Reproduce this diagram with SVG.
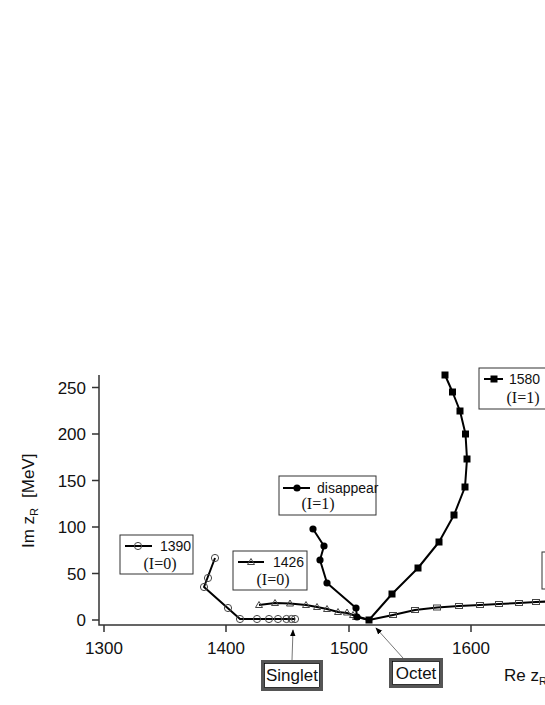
<svg xmlns="http://www.w3.org/2000/svg" width="545" height="705" viewBox="0 0 545 705" xmlns:xlink="http://www.w3.org/1999/xlink">
<style>
.ax{stroke:#333;stroke-width:1.5;fill:none}
.tk{font-family:"Liberation Sans",Arial,sans-serif;font-size:17px;fill:#111}
.cv{stroke:#000;stroke-width:2;fill:none;stroke-linejoin:round}
.lg{fill:#fff;stroke:#333;stroke-width:1}
.ls{font-family:"Liberation Sans",Arial,sans-serif;font-size:14px;fill:#111}
.lr{font-family:"Liberation Serif","Times New Roman",serif;font-size:16px;fill:#111}
.bx{font-family:"Liberation Sans",Arial,sans-serif;font-size:17px;fill:#111}
.ar{stroke:#777;stroke-width:1;fill:none}
.mo{fill:none;stroke:#444;stroke-width:1}
</style>
<defs>
<rect id="sqf" x="-3.5" y="-3.5" width="7" height="7" fill="#000"/>
<rect id="sqo" x="-3.5" y="-2.5" width="7" height="5" class="mo"/>
<circle id="cf" r="3.6" fill="#000"/>
<circle id="co" r="3.6" class="mo"/>
<path id="tri" d="M-3.5,2.5 L3.5,2.5 L0,-3.5Z" class="mo"/>
<marker id="ah" viewBox="0 0 10 10" refX="9" refY="5" markerWidth="7" markerHeight="7" orient="auto" markerUnits="userSpaceOnUse">
<path d="M0,1 L10,5 L0,9Z" fill="#000"/>
</marker>
</defs>
<rect width="545" height="705" fill="#fff"/>
<g id="axes">
<path class="ax" d="M99,375 V625 H545"/>
<path class="ax" d="M92,620 H99 M92,573.5 H99 M92,527 H99 M92,480.5 H99 M92,434 H99 M92,387.5 H99"/>
<path class="ax" d="M104,625 V632 M226,625 V632 M349,625 V632 M471,625 V632"/>
<g class="tk" text-anchor="end">
<text x="86" y="626">0</text>
<text x="86" y="579.5">50</text>
<text x="86" y="533">100</text>
<text x="86" y="486.5">150</text>
<text x="86" y="440">200</text>
<text x="86" y="393.5">250</text>
</g>
<g class="tk" text-anchor="middle">
<text x="104" y="654">1300</text>
<text x="226" y="654">1400</text>
<text x="349" y="654">1500</text>
<text x="471" y="654">1600</text>
</g>
<text class="tk" x="504" y="681">Re z<tspan font-size="11" dy="4">R</tspan></text>
<text class="tk" font-size="16" transform="translate(33.5,548) rotate(-90)">Im z<tspan font-size="11" dy="4">R</tspan><tspan dy="-4" dx="10">[MeV]</tspan></text>
</g>
<g id="s1390">
<polyline class="cv" points="215,558 204,587 240,619 295,619"/>
<use xlink:href="#co" x="215" y="558"/><use xlink:href="#co" x="208" y="578"/><use xlink:href="#co" x="204" y="587"/>
<use xlink:href="#co" x="228" y="608"/><use xlink:href="#co" x="240" y="619"/><use xlink:href="#co" x="257" y="619"/>
<use xlink:href="#co" x="269" y="619"/><use xlink:href="#co" x="278" y="619"/><use xlink:href="#co" x="286.5" y="619"/>
<use xlink:href="#co" x="291.5" y="619"/><use xlink:href="#co" x="295" y="619"/>
</g>
<g id="s1426">
<polyline class="cv" points="259,605 275,603 290,603.5 306,605 317,607 327,609 338,612 347,613 356,616 369,620"/>
<use xlink:href="#tri" x="259" y="605"/><use xlink:href="#tri" x="275" y="603"/><use xlink:href="#tri" x="290" y="603.5"/>
<use xlink:href="#tri" x="306" y="605"/><use xlink:href="#tri" x="317" y="607"/><use xlink:href="#tri" x="327" y="609"/>
<use xlink:href="#tri" x="338" y="612"/><use xlink:href="#tri" x="347" y="612.5"/><use xlink:href="#tri" x="353" y="615"/>
<use xlink:href="#tri" x="356" y="617"/>
</g>
<g id="sdisappear">
<polyline class="cv" points="313,529 324,546 320,560 327,583 356,608 357,617 369,620"/>
<use xlink:href="#cf" x="313" y="529"/><use xlink:href="#cf" x="324" y="546"/><use xlink:href="#cf" x="320" y="560"/>
<use xlink:href="#cf" x="327" y="583"/><use xlink:href="#cf" x="356" y="608"/><use xlink:href="#cf" x="357" y="617"/>
</g>
<g id="s1580">
<polyline class="cv" points="445,375 452.5,392 460,411 465.5,434 467,459 465,487 454,515 439,542 418,568 392,594 369,620"/>
<use xlink:href="#sqf" x="445" y="375"/><use xlink:href="#sqf" x="452.5" y="392"/><use xlink:href="#sqf" x="460" y="411"/>
<use xlink:href="#sqf" x="465.5" y="434"/><use xlink:href="#sqf" x="467" y="459"/><use xlink:href="#sqf" x="465" y="487"/>
<use xlink:href="#sqf" x="454" y="515"/><use xlink:href="#sqf" x="439" y="542"/><use xlink:href="#sqf" x="418" y="568"/>
<use xlink:href="#sqf" x="392" y="594"/><use xlink:href="#sqf" x="369" y="620"/>
</g>
<g id="sright">
<polyline class="cv" points="369,620 393,615 415,610 437,607.5 459,606 480,605 499,604 519,603 536,602 548,601.5"/>
<use xlink:href="#sqo" x="393" y="615"/><use xlink:href="#sqo" x="415" y="610"/><use xlink:href="#sqo" x="437" y="607.5"/>
<use xlink:href="#sqo" x="459" y="606"/><use xlink:href="#sqo" x="480" y="605"/><use xlink:href="#sqo" x="499" y="604"/>
<use xlink:href="#sqo" x="519" y="603"/><use xlink:href="#sqo" x="536" y="602"/>
</g>
<g id="leg1390">
<rect class="lg" x="120" y="535" width="73" height="39"/>
<line class="cv" x1="125" y1="546" x2="152" y2="546"/>
<use xlink:href="#co" x="138" y="546"/>
<text class="ls" x="160" y="551">1390</text>
<text class="lr" x="160" y="569" text-anchor="middle">(I=0)</text>
</g>
<g id="leg1426">
<rect class="lg" x="233" y="551" width="74" height="39"/>
<line class="cv" x1="238" y1="562" x2="264" y2="562"/>
<use xlink:href="#tri" x="251" y="562"/>
<text class="ls" x="273" y="567">1426</text>
<text class="lr" x="273" y="585" text-anchor="middle">(I=0)</text>
</g>
<g id="legdisappear">
<rect class="lg" x="279" y="476" width="97" height="39"/>
<line class="cv" x1="283" y1="488" x2="310" y2="488"/>
<use xlink:href="#cf" x="297" y="488"/>
<text class="ls" x="317" y="493" font-size="13.5">disappear</text>
<text class="lr" x="318" y="509" text-anchor="middle">(I=1)</text>
</g>
<g id="leg1580">
<rect class="lg" x="479" y="368" width="80" height="41"/>
<line class="cv" x1="484" y1="379" x2="503" y2="379"/>
<use xlink:href="#sqf" x="494" y="379"/>
<text class="ls" x="509" y="384">1580</text>
<text class="lr" x="523" y="403" text-anchor="middle">(I=1)</text>
</g>
<g id="legright">
<rect class="lg" x="542" y="552" width="20" height="37"/>
</g>
<g id="singlet">
<rect x="262.5" y="661.5" width="59" height="28" fill="#fff" stroke="#555" stroke-width="3"/>
<rect x="264.5" y="663.5" width="55" height="24" fill="none" stroke="#000" stroke-width="0.8"/>
<text class="bx" x="292" y="681" text-anchor="middle">Singlet</text>
</g>
<g id="octet">
<rect x="390.5" y="659.5" width="51" height="27" fill="#fff" stroke="#555" stroke-width="3"/>
<rect x="392.5" y="661.5" width="47" height="23" fill="none" stroke="#000" stroke-width="0.8"/>
<text class="bx" x="416" y="679" text-anchor="middle">Octet</text>
</g>
<g id="connectors">
<line class="ar" x1="292" y1="660" x2="293" y2="630" marker-end="url(#ah)"/>
<line class="ar" x1="403" y1="658" x2="376" y2="628" marker-end="url(#ah)"/>
</g>
</svg>
